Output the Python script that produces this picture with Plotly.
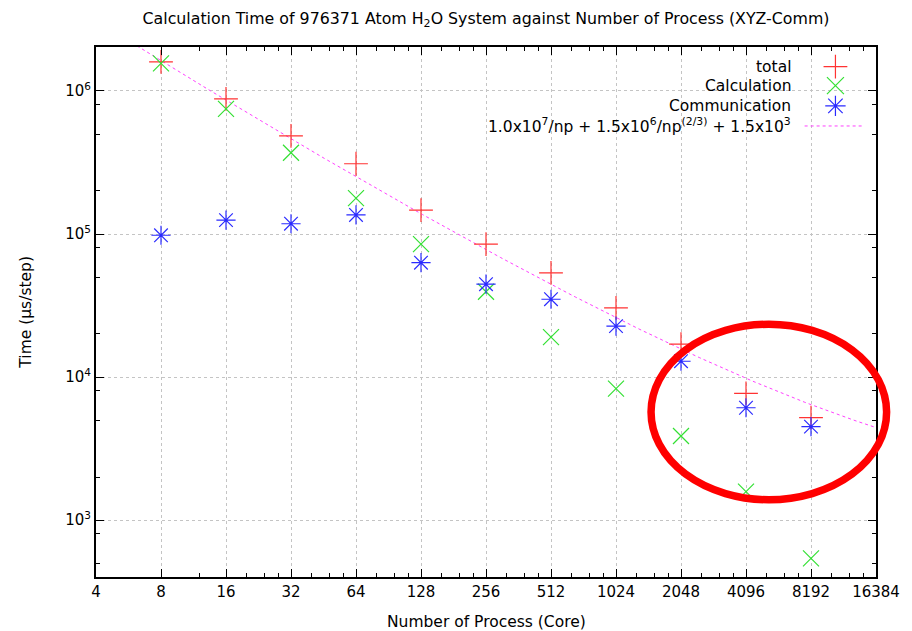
import numpy as np
import plotly.graph_objects as go

# ---------------- data ----------------
cores = [8, 16, 32, 64, 128, 256, 512, 1024, 2048, 4096, 8192]
total = [1.60e6, 8.8e5, 4.85e5, 3.1e5, 1.47e5, 8.5e4, 5.35e4, 3.05e4, 1.7e4, 7.7e3, 5.2e3]
calculation = [1.56e6, 7.5e5, 3.7e5, 1.78e5, 8.5e4, 3.95e4, 1.9e4, 8.3e3, 3.87e3, 1.58e3, 5.4e2]
communication = [9.8e4, 1.25e5, 1.18e5, 1.36e5, 6.3e4, 4.46e4, 3.5e4, 2.27e4, 1.29e4, 6.1e3, 4.5e3]

# fit: a/np + b/np^(2/3) + c  (coefficients from the legend)
fit_a, fit_b, fit_c = 1.0e7, 1.5e6, 1.5e3
fit_x = np.geomspace(4, 16384, 240)
fit_y = fit_a / fit_x + fit_b / fit_x ** (2.0 / 3.0) + fit_c

x_ticks = [4, 8, 16, 32, 64, 128, 256, 512, 1024, 2048, 4096, 8192, 16384]
x_ticktext = [str(v) for v in x_ticks]
y_ticks = [1e3, 1e4, 1e5, 1e6]
y_ticktext = ["10<sup>3</sup>", "10<sup>4</sup>", "10<sup>5</sup>", "10<sup>6</sup>"]

legend_names = ["total", "Calculation", "Communication",
                "1.0x10<sup>7</sup>/np + 1.5x10<sup>6</sup>/np<sup>(2/3)</sup> + 1.5x10<sup>3</sup>"]

title_text = "Calculation Time of 976371 Atom H<sub>2</sub>O System against Number of Process (XYZ-Comm)"

# ---------------- style ----------------
FONT = "DejaVu Sans, Liberation Sans, Arial, sans-serif"
RED = "#ff3333"
GREEN = "#33e033"
BLUE = "#2a2aff"
MAGENTA = "#ff40ff"
GRID = "#c4c4c4"

# page body has an 8px default margin (left & top): compensate so the plot sits where intended
PAGE_OFF = 8
W, H = 912 - PAGE_OFF, 631 - PAGE_OFF

# minor ticks
x_minor = [12]
for k in range(4, 14):
    for m in (1.25, 1.5, 1.75):
        x_minor.append(2 ** k * m)
y_minor = []
for e in range(2, 7):
    for m in (2, 5, 8):
        y_minor.append(m * 10 ** e)

fig = go.Figure()

fig.add_trace(go.Scatter(x=fit_x, y=fit_y, mode="lines",
                         line=dict(color=MAGENTA, width=1, dash="dot"),
                         showlegend=False, hoverinfo="skip"))
fig.add_trace(go.Scatter(x=cores, y=total, mode="markers",
                         marker=dict(symbol="cross-thin-open", size=17, color=RED,
                                     line=dict(color=RED, width=1.2)),
                         showlegend=False))
fig.add_trace(go.Scatter(x=cores, y=calculation, mode="markers",
                         marker=dict(symbol="x-thin-open", size=16, color=GREEN,
                                     line=dict(color=GREEN, width=1.2)),
                         showlegend=False))
fig.add_trace(go.Scatter(x=cores, y=communication, mode="markers",
                         marker=dict(symbol="asterisk-open", size=16, color=BLUE,
                                     line=dict(color=BLUE, width=1.2)),
                         showlegend=False))

# ---------------- custom gnuplot-style key (text right, sample right) ----------------
key_y = [0.963, 0.927, 0.889, 0.851]
key_text_x = 0.893
key_sym_x = 0.948
symbols = ["cross-thin-open", "x-thin-open", "asterisk-open"]
colors = [RED, GREEN, BLUE]
for i in range(3):
    fig.add_trace(go.Scatter(x=[key_sym_x], y=[key_y[i]], xaxis="x2", yaxis="y2",
                             mode="markers",
                             marker=dict(symbol=symbols[i], size=17, color=colors[i],
                                         line=dict(color=colors[i], width=1.2)),
                             showlegend=False, hoverinfo="skip"))
fig.add_trace(go.Scatter(x=[0.9085, 0.985], y=[key_y[3], key_y[3]], xaxis="x2", yaxis="y2",
                         mode="lines", line=dict(color=MAGENTA, width=1, dash="dot"),
                         showlegend=False, hoverinfo="skip"))
for i, name in enumerate(legend_names):
    fig.add_annotation(x=key_text_x, y=key_y[i], xref="paper", yref="paper",
                       text=name, showarrow=False, xanchor="right", yanchor="middle",
                       font=dict(family=FONT, size=15.5, color="black"))

# white area hiding grid behind key
fig.add_shape(type="rect", xref="paper", yref="paper", x0=0.297, x1=1.0, y0=0.830, y1=1.0,
              fillcolor="white", line=dict(width=0), layer="between")

# red ellipse highlight
fig.add_shape(type="circle", xref="paper", yref="paper",
              x0=0.7116, x1=1.0136, y0=0.1458, y1=0.4768,
              line=dict(color="#ff0000", width=7.5), layer="above")

# axis titles
fig.add_annotation(x=0.5, y=-0.085, xref="paper", yref="paper", text="Number of Process (Core)",
                   showarrow=False, xanchor="center", yanchor="middle",
                   font=dict(family=FONT, size=15.5, color="black"))
fig.add_annotation(x=-0.0902, y=0.5, xref="paper", yref="paper", text="Time (µs/step)",
                   showarrow=False, textangle=-90, xanchor="center", yanchor="middle",
                   font=dict(family=FONT, size=15.5, color="black"))

fig.update_layout(
    width=W, height=H,
    margin=dict(l=96 - PAGE_OFF, r=29, t=47 - PAGE_OFF, b=54),
    paper_bgcolor="white", plot_bgcolor="white",
    font=dict(family=FONT, size=15, color="black"),
    title=dict(text=title_text, x=0.5, xref="paper", y=1 - (18 - PAGE_OFF) / H, yref="container",
               xanchor="center", yanchor="middle",
               font=dict(family=FONT, size=15.8, color="black")),
    xaxis=dict(type="log", range=[np.log10(4) - 1e-6, np.log10(16384) + 1e-6],
               tickmode="array", tickvals=x_ticks, ticktext=x_ticktext,
               ticks="inside", ticklen=8, tickwidth=1.2, tickcolor="black",
               ticklabeloverflow="allow",
               showline=True, linecolor="black", linewidth=2, mirror="allticks",
               showgrid=True, gridcolor=GRID, griddash="dot", gridwidth=1,
               zeroline=False,
               minor=dict(tickmode="array", tickvals=x_minor, ticks="inside", ticklen=4,
                          tickcolor="black", showgrid=False),
               tickfont=dict(family=FONT, size=15, color="black")),
    yaxis=dict(type="log", range=[np.log10(400), np.log10(2.03e6)],
               tickmode="array", tickvals=y_ticks, ticktext=y_ticktext,
               ticks="inside", ticklen=8, tickwidth=1.2, tickcolor="black",
               showline=True, linecolor="black", linewidth=2, mirror="allticks",
               showgrid=True, gridcolor=GRID, griddash="dot", gridwidth=1,
               zeroline=False,
               minor=dict(tickmode="array", tickvals=y_minor, ticks="inside", ticklen=4,
                          tickcolor="black", showgrid=False),
               tickfont=dict(family=FONT, size=15, color="black")),
    xaxis2=dict(overlaying="x", range=[0, 1], visible=False, fixedrange=True),
    yaxis2=dict(overlaying="y", range=[0, 1], visible=False, fixedrange=True),
    showlegend=False,
)

fig.write_html("out.html")
